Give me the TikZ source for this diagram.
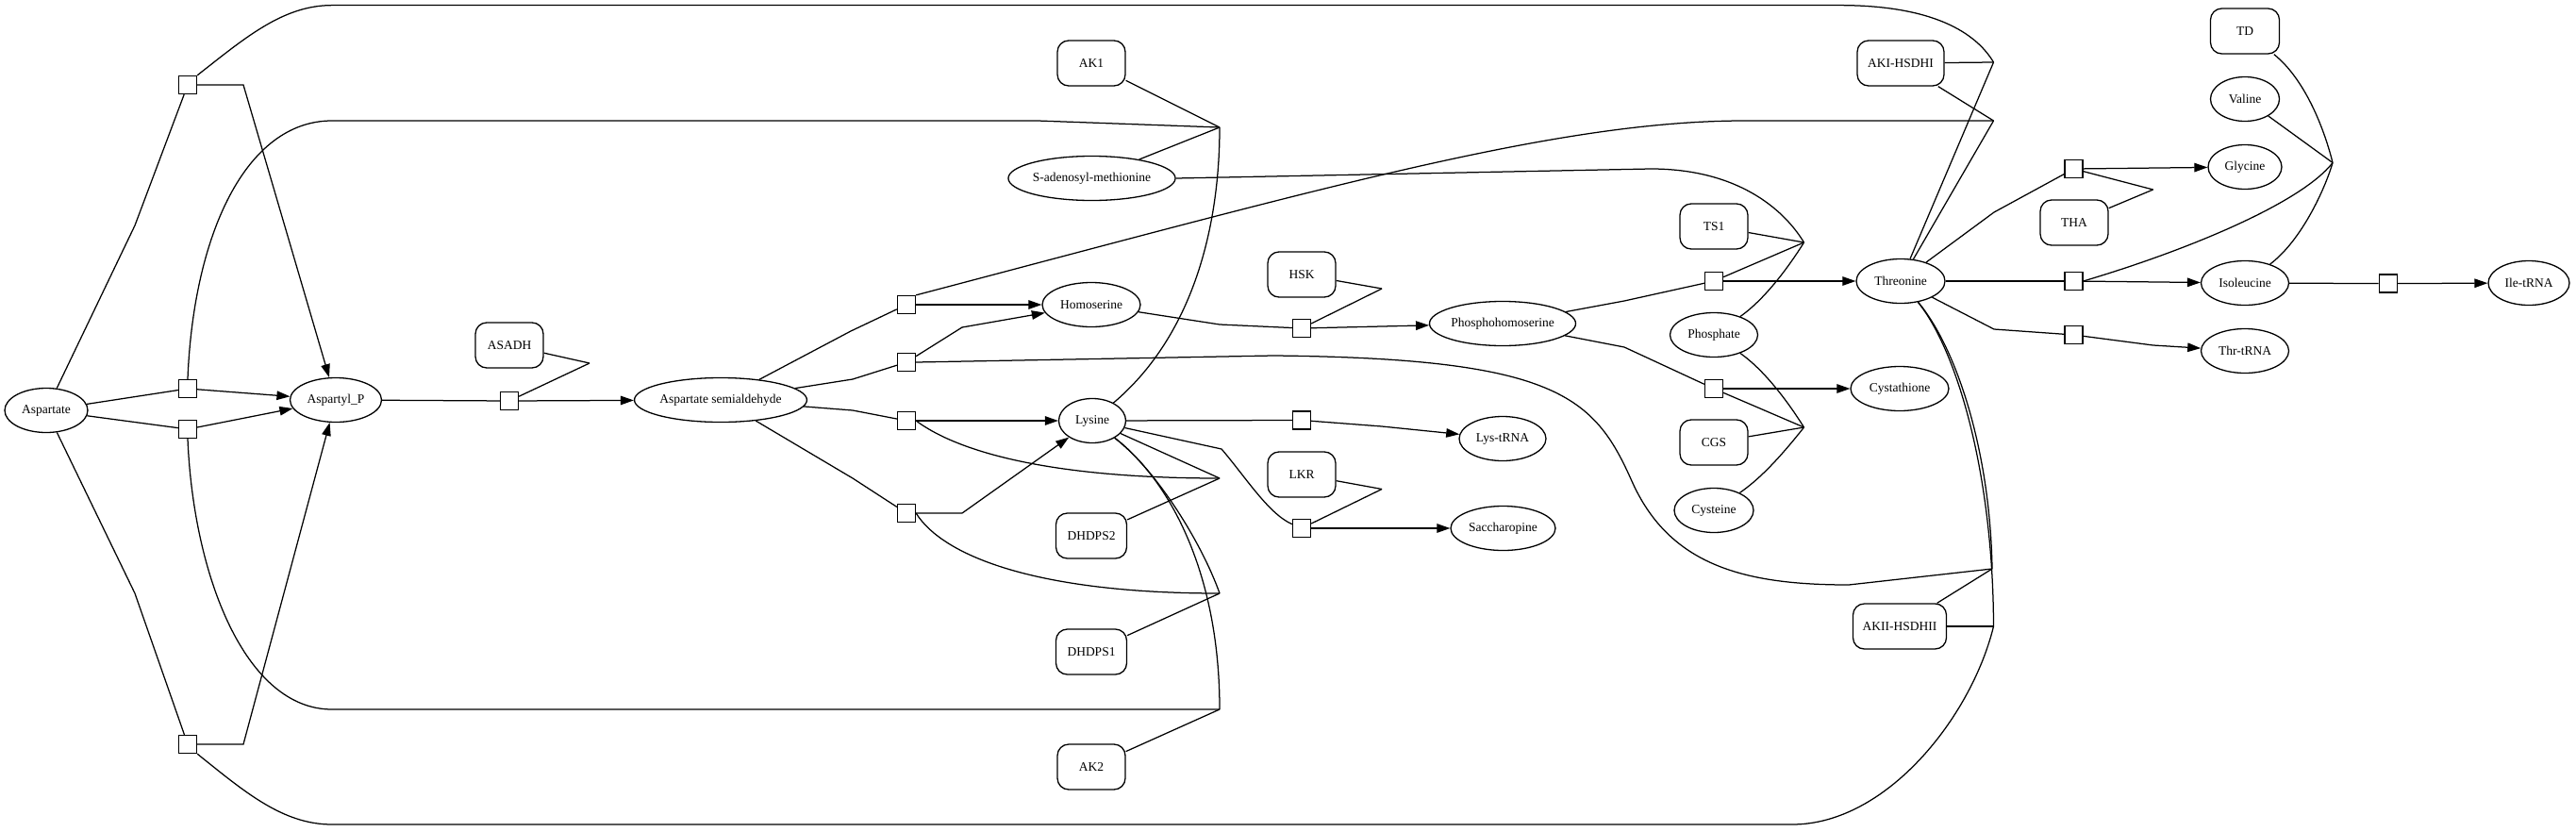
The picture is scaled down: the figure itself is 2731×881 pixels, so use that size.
\documentclass[tikz,border=0pt]{standalone}
\usepackage{fontspec}
\setmainfont{Liberation Serif}
\usetikzlibrary{shapes.geometric,arrows.meta}
\begin{document}
\begin{tikzpicture}[x=1pt,y=-1pt,
  met/.style={ellipse,draw,line width=1.3pt,minimum height=47pt,inner sep=0pt,font=\fontsize{13.5}{15}\selectfont},
  enz/.style={rectangle,rounded corners=12pt,draw,line width=1.3pt,minimum height=48pt,minimum width=72pt,inner sep=0pt,font=\fontsize{13.5}{15}\selectfont},
  rx/.style={rectangle,draw,line width=1.3pt,minimum size=19pt,inner sep=0pt,fill=white},
  ln/.style={line width=1.25pt},
  arr/.style={line width=1.25pt,-{Triangle[length=14pt,width=9.5pt]}},
]
\useasboundingbox (0,0) rectangle (2731,881);
% metabolites
\node[met,minimum width=88pt] (asp) at (49,435) {Aspartate};
\node[met,minimum width=97pt] (aspp) at (356,424) {Aspartyl\_P};
\node[met,minimum width=181pt] (asa) at (764,424) {Aspartate semialdehyde};
\node[met,minimum width=174pt] (sam) at (1157.5,189) {S-adenosyl-methionine};
\node[met,minimum width=104pt] (hser) at (1157,323) {Homoserine};
\node[met,minimum width=71pt] (lys) at (1158,446) {Lysine};
\node[met,minimum width=155pt] (phser) at (1593,343) {Phosphohomoserine};
\node[met,minimum width=92pt] (lystrna) at (1593,465) {Lys-tRNA};
\node[met,minimum width=111pt] (sacc) at (1593.5,560) {Saccharopine};
\node[met,minimum width=93pt] (phos) at (1817,355) {Phosphate};
\node[met,minimum width=84pt] (cys) at (1817,541) {Cysteine};
\node[met,minimum width=94pt] (thr) at (2015,298) {Threonine};
\node[met,minimum width=104pt] (cysta) at (2014,412) {Cystathione};
\node[met,minimum width=73pt] (val) at (2380,105) {Valine};
\node[met,minimum width=78pt] (gly) at (2380,177) {Glycine};
\node[met,minimum width=93pt] (ile) at (2380,300) {Isoleucine};
\node[met,minimum width=93pt] (thrtrna) at (2380,372) {Thr-tRNA};
\node[met,minimum width=86pt] (iletrna) at (2681,300) {Ile-tRNA};
% enzymes
\node[enz] (asadh) at (540,366) {ASADH};
\node[enz] (ak1) at (1157,67) {AK1};
\node[enz,minimum width=75pt] (dhdps2) at (1157,568) {DHDPS2};
\node[enz,minimum width=75pt] (dhdps1) at (1157,691) {DHDPS1};
\node[enz] (ak2) at (1157,813) {AK2};
\node[enz] (hsk) at (1380,291) {HSK};
\node[enz] (lkr) at (1380,503) {LKR};
\node[enz] (ts1) at (1817,240) {TS1};
\node[enz] (cgs) at (1817,469) {CGS};
\node[enz,minimum width=92pt] (akI) at (2015,67) {AKI-HSDHI};
\node[enz,minimum width=99pt] (akII) at (2014,664) {AKII-HSDHII};
\node[enz] (tha) at (2199,236) {THA};
\node[enz,minimum width=73pt] (td) at (2380,33) {TD};
% reactions
\node[rx] (r1) at (199,90) {};
\node[rx] (r2) at (199,412) {};
\node[rx] (r3) at (199,455) {};
\node[rx] (r4) at (199,789) {};
\node[rx] (rasadh) at (540,425) {};
\node[rx] (rh) at (961,323) {};
\node[rx] (rt) at (961,384) {};
\node[rx] (rl) at (961,446) {};
\node[rx] (rd) at (961,544) {};
\node[rx] (rhsk) at (1380,348) {};
\node[rx] (rlt) at (1380,445.5) {};
\node[rx] (rlkr) at (1380,560) {};
\node[rx] (rts) at (1817,298) {};
\node[rx] (rcgs) at (1817,412) {};
\node[rx] (rgly) at (2198.5,179) {};
\node[rx] (rile) at (2198.5,298) {};
\node[rx] (rthrt) at (2198.5,355) {};
\node[rx] (riletrna) at (2531.7,300.6) {};
% junctions
\coordinate (jasadh) at (625,385);
\coordinate (jak1) at (1293,135);
\coordinate (jdh2) at (1293,507);
\coordinate (jdh1) at (1293,629);
\coordinate (jak2) at (1293,752);
\coordinate (jhsk) at (1465,306);
\coordinate (jlkr) at (1465,518.5);
\coordinate (jts) at (1912.5,257);
\coordinate (jcgs) at (1912.5,453);
\coordinate (jakIa) at (2113.5,66);
\coordinate (jakIb) at (2113.5,128);
\coordinate (jakIIa) at (2112,603);
\coordinate (jakIIb) at (2113.5,664);
\coordinate (jtha) at (2282.6,201);
\coordinate (jtd) at (2473,172.5);
% aspartate kinase reactions
\draw[ln] (asp) -- (143,239) -- (r1);
\draw[arr] (r1.east) -- (258,90) -- (aspp);
\draw[ln] (asp) -- (r2);
\draw[arr] (r2) -- (aspp);
\draw[ln] (asp) -- (r3);
\draw[arr] (r3) -- (aspp);
\draw[ln] (asp) -- (143,629) -- (r4);
\draw[arr] (r4.east) -- (258,789) -- (aspp);
% long regulation loops
\draw[ln] (r1.north east) .. controls (260,40) and (300,5.6) .. (352,5.6) -- (1950,5.6) .. controls (2050,5.6) and (2095,35) .. (jakIa);
\draw[ln] (r2.north) .. controls (205,250) and (260,128) .. (352,128) -- (1100,128) -- (jak1);
\draw[ln] (r3.south) .. controls (205,610) and (260,752) .. (352,752) -- (jak2);
\draw[ln] (r4.south east) .. controls (260,840) and (300,874) .. (352,874) -- (1900,874) .. controls (2000,874) and (2090,760) .. (jakIIb);
% ASADH
\draw[ln] (aspp) -- (rasadh);
\draw[arr] (rasadh) -- (asa);
\draw[ln] (asadh) -- (jasadh);
\draw[ln] (rasadh) -- (jasadh);
% from aspartate semialdehyde
\draw[ln] (asa) -- (902,351) -- (rh);
\draw[arr] (rh) -- (hser);
\draw[ln] (asa) -- (904,402) -- (rt);
\draw[arr] (rt) -- (1020,347) -- (hser);
\draw[ln] (asa) -- (904,435) -- (rl);
\draw[arr] (rl) -- (lys);
\draw[ln] (asa) -- (904,507) -- (rd);
\draw[arr] (rd) -- (1020,544) -- (lys);
\draw[ln] (rh.north east) .. controls (1400,200) and (1650,128) .. (1850,128) -- (jakIb);
\draw[ln] (rt.east) -- (1350,377) .. controls (1650,380) and (1690,420) .. (1730,510) .. controls (1770,600) and (1850,620) .. (1960,620) -- (jakIIa);
\draw[ln] (rl.east) .. controls (1010,475) and (1100,507) .. (jdh2);
\draw[ln] (rd.east) .. controls (1000,590) and (1100,629) .. (jdh1);
% lysine
\draw[ln] (lys) .. controls (1260,360) and (1293,250) .. (jak1);
\draw[ln] (lys) .. controls (1235,505) and (1293,600) .. (jak2);
\draw[ln] (lys) .. controls (1228,500) and (1275,578) .. (jdh1);
\draw[ln] (lys) -- (jdh2);
\draw[ln] (ak1) -- (jak1);
\draw[ln] (sam) -- (jak1);
\draw[ln] (dhdps2) -- (jdh2);
\draw[ln] (dhdps1) -- (jdh1);
\draw[ln] (ak2) -- (jak2);
\draw[ln] (lys) -- (rlt);
\draw[arr] (rlt) -- (1465,452) -- (lystrna);
\draw[ln] (lys) -- (1295,476) .. controls (1320,505) and (1345,545) .. (rlkr);
\draw[ln] (lkr) -- (jlkr);
\draw[ln] (rlkr) -- (jlkr);
\draw[arr] (rlkr) -- (sacc);
% homoserine
\draw[ln] (hser) -- (1293,344) -- (rhsk);
\draw[arr] (rhsk) -- (phser);
\draw[ln] (hsk) -- (jhsk);
\draw[ln] (rhsk) -- (jhsk);
% phosphohomoserine
\draw[ln] (sam.east) -- (1750,179) .. controls (1840,179) and (1890,220) .. (jts);
\draw[ln] (phser) -- (1722,319) -- (rts);
\draw[ln] (phser) -- (1722,368) -- (rcgs);
\draw[arr] (rts) -- (thr);
\draw[arr] (rcgs) -- (cysta);
\draw[ln] (ts1) -- (jts);
\draw[ln] (rts) -- (jts);
\draw[ln] (phos) .. controls (1870,318) and (1895,285) .. (jts);
\draw[ln] (cgs) -- (jcgs);
\draw[ln] (rcgs) -- (jcgs);
\draw[ln] (phos) .. controls (1870,392) and (1895,425) .. (jcgs);
\draw[ln] (cys) .. controls (1870,505) and (1895,475) .. (jcgs);
% threonine
\draw[ln] (thr) -- (jakIa);
\draw[ln] (thr) -- (jakIb);
\draw[ln] (thr) .. controls (2075,370) and (2110,480) .. (jakIIa);
\draw[ln] (thr) .. controls (2074,370) and (2113,500) .. (jakIIb);
\draw[ln] (akI) -- (jakIa);
\draw[ln] (akI) -- (jakIb);
\draw[ln] (akII) -- (jakIIa);
\draw[ln] (akII) -- (jakIIb);
\draw[ln] (thr) -- (2114,225) -- (rgly);
\draw[arr] (rgly) -- (gly);
\draw[ln] (rgly) -- (jtha);
\draw[ln] (tha) -- (jtha);
\draw[ln] (thr) -- (rile);
\draw[arr] (rile) -- (ile);
\draw[ln] (rile.east) .. controls (2320,265) and (2440,215) .. (jtd);
\draw[ln] (td) .. controls (2445,85) and (2465,140) .. (jtd);
\draw[ln] (val) -- (jtd);
\draw[ln] (ile) .. controls (2440,255) and (2465,200) .. (jtd);
\draw[ln] (thr) -- (2114,349) -- (rthrt);
\draw[arr] (rthrt) -- (2282.6,366) -- (thrtrna);
\draw[ln] (ile) -- (riletrna);
\draw[arr] (riletrna) -- (iletrna);
\end{tikzpicture}
\end{document}
